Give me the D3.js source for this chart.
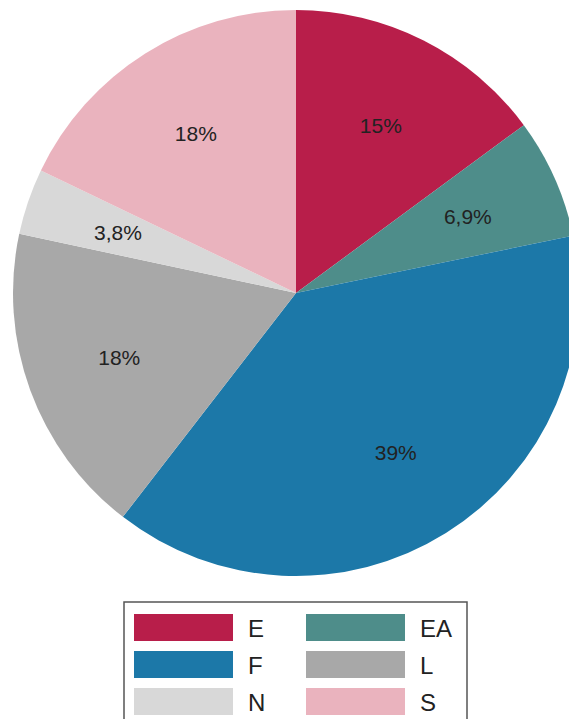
<!DOCTYPE html>
<html>
<head>
<meta charset="utf-8">
<script src="https://cdn.jsdelivr.net/npm/d3@7"></script>
<style>
  html, body { margin: 0; padding: 0; background: #fff; overflow: hidden; }
  svg { display: block; font-family: "Liberation Sans", Arial, sans-serif; }
</style>
</head>
<body>
<svg id="chart" width="569" height="719"></svg>
<script>
// Category shares (percent), clockwise from 12 o'clock
const categories = ["E", "EA", "F", "L", "N", "S"];
const shares = [15, 6.9, 39, 18, 3.8, 18];
const shareLabels = ["15%", "6,9%", "39%", "18%", "3,8%", "18%"];
const palette = ["#B81E4A", "#4E8D8A", "#1C78A8", "#A8A8A8", "#D8D8D8", "#EAB3BE"];

// Legend order: two columns, three rows
const legendOrder = ["E", "EA", "F", "L", "N", "S"];

const svg = d3.select("#chart");
const cx = 296, cy = 293, radius = 283;

const color = d3.scaleOrdinal().domain(categories).range(palette);

const data = categories.map((c, i) => ({ cat: c, value: shares[i], label: shareLabels[i] }));

const pie = d3.pie().sort(null).value(d => d.value).startAngle(0).endAngle(2 * Math.PI);
const arc = d3.arc().innerRadius(0).outerRadius(radius);
const labelArc = d3.arc().innerRadius(radius * 0.665).outerRadius(radius * 0.665);

const g = svg.append("g").attr("transform", `translate(${cx},${cy})`);

const arcs = pie(data);

g.selectAll("path.slice")
  .data(arcs)
  .join("path")
  .attr("class", "slice")
  .attr("d", arc)
  .attr("fill", d => color(d.data.cat));

g.selectAll("text.pct")
  .data(arcs)
  .join("text")
  .attr("class", "pct")
  .attr("transform", d => `translate(${labelArc.centroid(d)})`)
  .attr("text-anchor", "middle")
  .attr("dominant-baseline", "central")
  .attr("font-size", 21)
  .attr("fill", "#222")
  .text(d => d.data.label);

// Legend box
const legend = svg.append("g").attr("transform", "translate(124,602)");
legend.append("rect")
  .attr("x", 0).attr("y", 0)
  .attr("width", 343).attr("height", 125)
  .attr("fill", "#fff")
  .attr("stroke", "#555")
  .attr("stroke-width", 1.5);

const colX = [10, 182];
const rowY = [12, 49, 86];
const items = legend.selectAll("g.item")
  .data(legendOrder)
  .join("g")
  .attr("class", "item")
  .attr("transform", (d, i) => `translate(${colX[i % 2]},${rowY[Math.floor(i / 2)]})`);

items.append("rect")
  .attr("width", 99).attr("height", 27)
  .attr("fill", d => color(d));

items.append("text")
  .attr("x", 114).attr("y", 14)
  .attr("dominant-baseline", "central")
  .attr("font-size", 24)
  .attr("fill", "#222")
  .text(d => d);
</script>
</body>
</html>
